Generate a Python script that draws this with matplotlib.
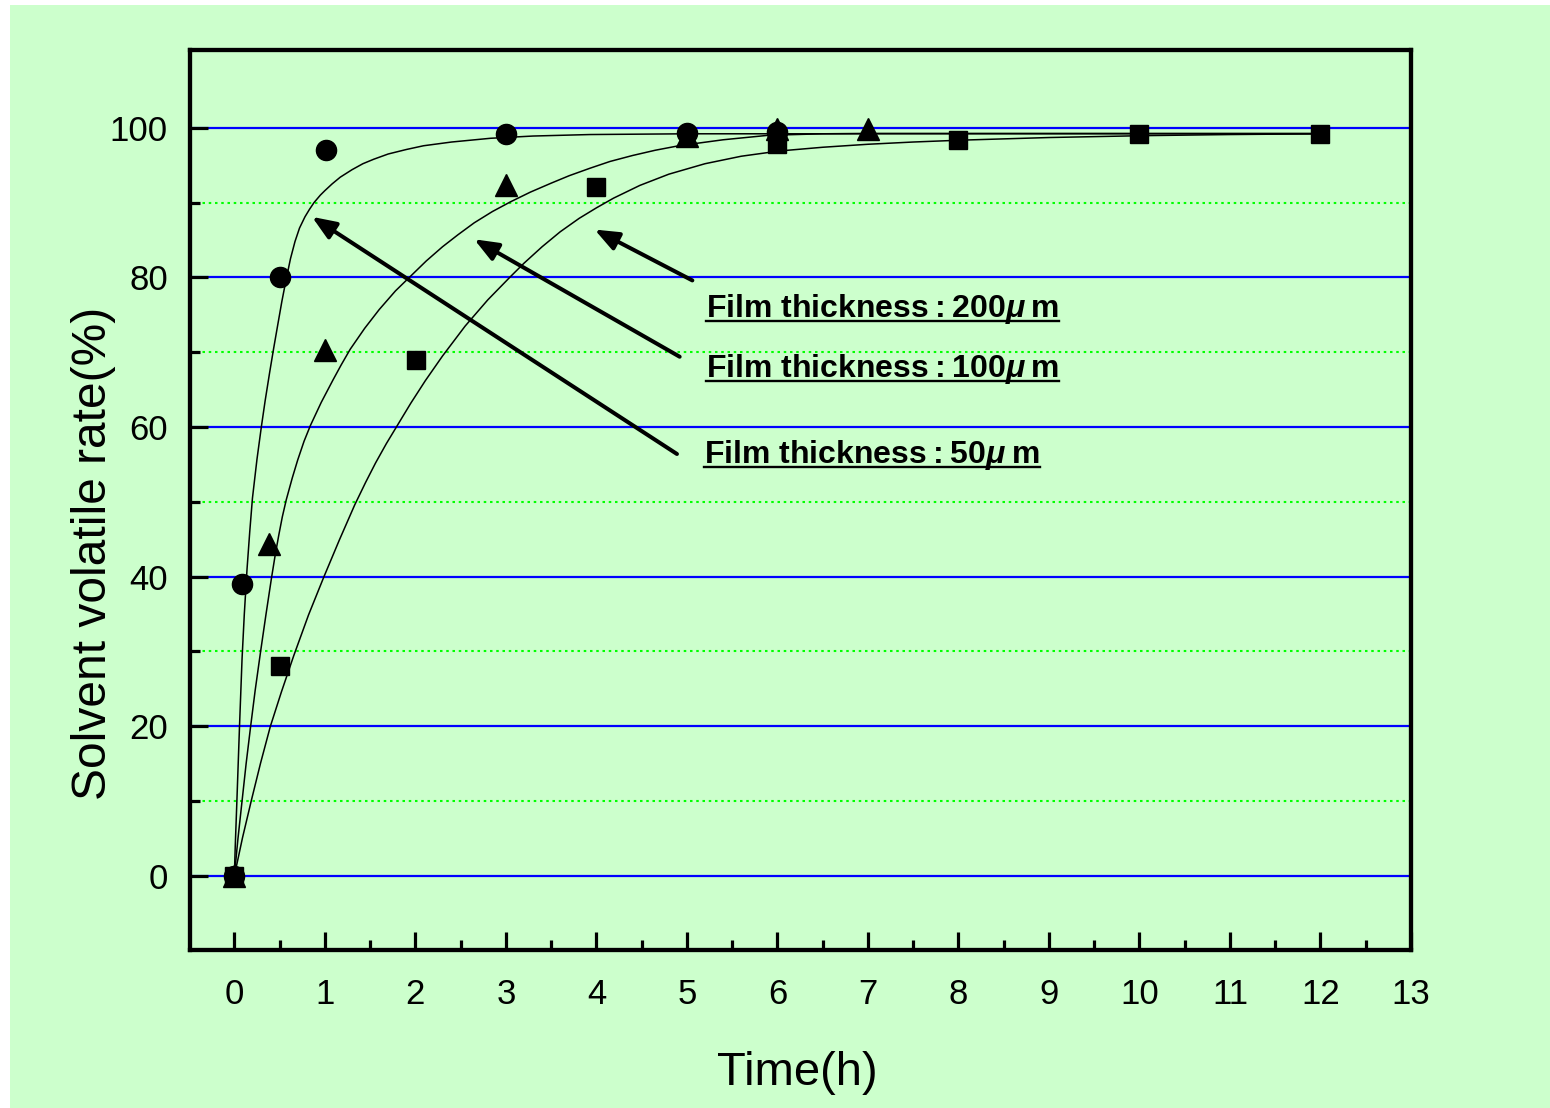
import matplotlib
matplotlib.use("Agg")
import matplotlib.pyplot as plt
from matplotlib.lines import Line2D
from matplotlib.patches import Rectangle
from matplotlib.ticker import MultipleLocator, FixedLocator

plt.rcParams["mathtext.fontset"] = "custom"
plt.rcParams["mathtext.it"] = "Liberation Sans:italic:bold"
plt.rcParams["mathtext.rm"] = "Liberation Sans:bold"

# ---------------- data ----------------
t_50 = [0, 0.085, 0.508, 1.01, 3.0, 5.0, 6.0]
v_50 = [0, 39.0, 80.0, 97.1, 99.2, 99.3, 99.4]

t_100 = [0, 0.379, 1.0, 3.0, 5.0, 6.0, 7.0]
v_100 = [0, 44.4, 70.3, 92.4, 98.9, 99.8, 99.8]

t_200 = [0, 0.508, 2.01, 4.0, 6.0, 8.0, 10.0, 12.0]
v_200 = [0, 28.0, 69.0, 92.1, 97.8, 98.4, 99.2, 99.2]

# fitted curves
fit50_t = [0, 0.01, 0.028, 0.057, 0.085, 0.11, 0.14, 0.17, 0.2, 0.25, 0.298, 0.34,
           0.39, 0.434, 0.48, 0.525, 0.57, 0.62, 0.67, 0.72, 0.78, 0.83, 0.88, 0.95,
           1.0, 1.08, 1.17, 1.3, 1.42, 1.54, 1.7, 1.9, 2.09, 2.4, 2.83, 3.3, 3.93,
           5.0, 6.0, 8.0, 10.0, 12.0]
fit50_v = [0, 4, 10, 20, 29, 35, 41, 46, 50.5, 55.7, 60, 63.5,
           67.3, 70.5, 73.7, 76.8, 79.6, 82.5, 84.8, 86.6, 88.1, 89.1, 90.0, 91.0,
           91.6, 92.5, 93.4, 94.4, 95.2, 95.8, 96.5, 97.1, 97.6, 98.1, 98.6, 98.9, 99.1,
           99.2, 99.2, 99.2, 99.2, 99.2]

fit100_t = [0, 0.04, 0.085, 0.13, 0.18, 0.23, 0.29, 0.35, 0.41, 0.45, 0.49, 0.53,
            0.574, 0.64, 0.7, 0.77, 0.84, 0.96, 1.09, 1.18, 1.28, 1.44, 1.6, 1.78,
            1.95, 2.12, 2.3, 2.47, 2.65, 2.85, 3.05, 3.27, 3.5, 3.7, 3.93, 4.15, 4.4,
            4.65, 4.91, 5.4, 5.9, 6.5, 7.0, 8.0, 10.0, 12.0]
fit100_v = [0, 5, 10, 15.0, 20, 24.8, 30, 35.0, 39.8, 42.8, 45.5, 48.0,
            50.3, 53.2, 55.6, 58.1, 60.2, 63.3, 66.3, 68.3, 70.4, 73.2, 75.7, 78.2,
            80.2, 82.2, 84.1, 85.7, 87.3, 88.8, 90.1, 91.4, 92.6, 93.6, 94.6, 95.5, 96.3,
            97.0, 97.6, 98.4, 99.0, 99.2, 99.25, 99.25, 99.25, 99.25]

fit200_t = [0, 0.09, 0.19, 0.29, 0.398, 0.52, 0.655, 0.82, 0.99, 1.16, 1.33, 1.45,
            1.56, 1.68, 1.80, 1.95, 2.11, 2.3, 2.55, 2.8, 3.05, 3.2, 3.4, 3.6, 3.81,
            4.0, 4.19, 4.48, 4.8, 5.2, 5.6, 6.02, 6.5, 7.0, 7.5, 8.03, 9.0,
            10.04, 11.0, 12.0]
fit200_v = [0, 5.1, 10.2, 15.1, 20, 24.6, 29.4, 34.9, 40, 44.9, 49.6, 52.6,
            55.2, 57.8, 60.2, 63.2, 66.2, 69.5, 73.5, 77.0, 80.1, 81.9, 84.1, 86.1, 87.9,
            89.3, 90.6, 92.3, 93.8, 95.2, 96.2, 96.9, 97.4, 97.8, 98.1, 98.35, 98.7,
            98.95, 99.1, 99.2]

labels = ["Film thickness\u2009:\u2009200$\\mu$\u2009m",
          "Film thickness\u2009:\u2009100$\\mu$\u2009m",
          "Film thickness\u2009:\u200950$\\mu$\u2009m"]
label_pos = [(5.21, 74.7), (5.21, 66.7), (5.19, 55.2)]
arrow_tips = [(3.98, 86.4), (2.65, 85.1), (0.858, 88.1)]
arrow_tails = [(5.06, 79.6), (4.92, 69.4), (4.89, 56.4)]

x_ticks = list(range(0, 14))
y_ticks = [0, 20, 40, 60, 80, 100]
y_minor = [10, 30, 50, 70, 90]

# ---------------- figure ----------------
W, H = 1550, 1108
fig = plt.figure(figsize=(W / 100, H / 100), dpi=100, facecolor="white")
fig.patches.append(Rectangle((10 / W, 0), 1, 1 - 5 / H, transform=fig.transFigure,
                             facecolor="#CCFFCC", edgecolor="none", zorder=-10))

ax = fig.add_axes([190 / W, 1 - 950 / H, (1411 - 190) / W, (950 - 50) / H])
ax.set_facecolor("#CCFFCC")
ax.set_xlim(-0.49, 13)
ax.set_ylim(-9.9, 110.4)

ax.set_xticks(x_ticks)
ax.xaxis.set_minor_locator(MultipleLocator(0.5))
ax.set_yticks(y_ticks)
ax.yaxis.set_minor_locator(FixedLocator(y_minor))

for s in ax.spines.values():
    s.set_linewidth(3.1)
ax.tick_params(which="major", direction="in", length=13, width=2.3, pad=20,
               labelsize=25, right=False, top=False)
ax.tick_params(which="minor", direction="in", length=7, width=2.3, right=False, top=False)
ax.tick_params(axis="y", which="major", pad=16)
for lab in ax.get_xticklabels() + ax.get_yticklabels():
    lab.set_family(["Liberation Sans", "DejaVu Sans"])

ax.yaxis.grid(True, which="major", color="#0000FF", lw=1.6, zorder=0)
ax.yaxis.grid(True, which="minor", color="#00FF00", lw=1.5, ls=(0, (1.2, 1.8)), zorder=0)
ax.set_axisbelow(True)

# fitted curves
for ft, fv in [(fit50_t, fit50_v), (fit100_t, fit100_v), (fit200_t, fit200_v)]:
    ax.plot(ft, fv, color="black", lw=1.1, zorder=2, solid_joinstyle="round",
            antialiased=True)

# markers
ax.plot(t_50, v_50, "o", color="black", ms=14.5, zorder=4, clip_on=False)
ax.plot(t_100, v_100, "^", color="black", ms=16, zorder=4, clip_on=False)
ax.plot(t_200, v_200, "s", color="black", ms=13, zorder=4, clip_on=False)

# arrows
for tip, tail in zip(arrow_tips, arrow_tails):
    ax.annotate("", xy=tip, xytext=tail,
                arrowprops=dict(arrowstyle="-|>,head_length=0.8,head_width=0.32",
                                mutation_scale=18, lw=2.9, color="black",
                                shrinkA=0, shrinkB=0), zorder=5)

# labels
texts = []
for lab, (lx, ly) in zip(labels, label_pos):
    tx = ax.text(lx, ly, lab, ha="left", va="baseline", fontsize=23,
                 fontweight="bold", family=["Liberation Sans", "DejaVu Sans"],
                 zorder=6)
    texts.append((tx, lx, ly))

fig.text(797 / W, 1 - 1073 / H, "Time(h)", ha="center", va="center", fontsize=34,
         family=["Liberation Sans", "DejaVu Sans"])
fig.text(94 / W, 1 - 553 / H, "Solvent volatile rate(%)", ha="center", va="center",
         rotation=90, fontsize=34.5, family=["Liberation Sans", "DejaVu Sans"])

# underline the labels
fig.canvas.draw()
r = fig.canvas.get_renderer()
for tx, lx, ly in texts:
    bb = tx.get_window_extent(r)
    yb = ax.transData.transform((lx, ly))[1] - 4.0
    fig.add_artist(Line2D([bb.x0 / W, bb.x1 / W], [yb / H, yb / H],
                          transform=fig.transFigure, color="black", lw=1.7))

fig.savefig("out.png", dpi=100, facecolor=fig.get_facecolor())
